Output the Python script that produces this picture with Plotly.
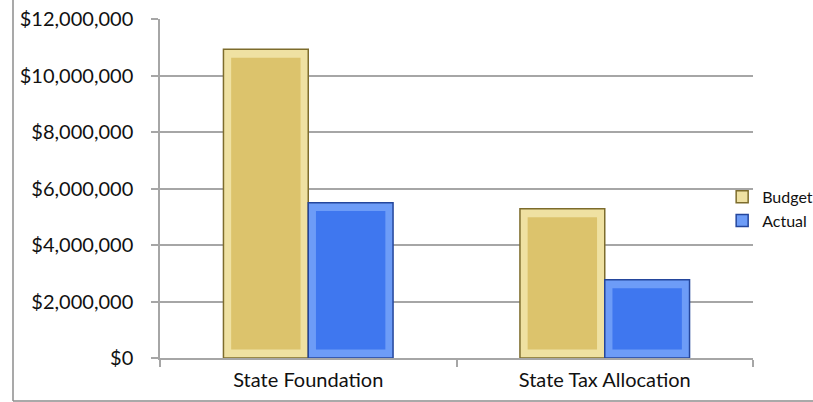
import plotly.graph_objects as go

# Revenue sources compared against budget
categories = ["State Foundation", "State Tax Allocation"]
budget = [10930000, 5280000]
actual = [5500000, 2770000]

tick_vals = [0, 2000000, 4000000, 6000000, 8000000, 10000000, 12000000]
tick_text = ["$0", "$2,000,000", "$4,000,000", "$6,000,000", "$8,000,000", "$10,000,000", "$12,000,000"]

FONT = "Lato, 'Open Sans', sans-serif"
W, H = 813, 402
L, R, T, B = 160, 60, 19, 44

GOLD_EDGE = "#7d6c2c"
GOLD_FACE = "#dcc36c"
GOLD_BEVEL = "#efe1a2"
BLUE_EDGE = "#24469c"
BLUE_FACE = "#3f77ef"
BLUE_BEVEL = "#6d9cf7"

bw = 0.286          # bar width in category units
inset = 0.026       # bevel inset (category units)
inset_v = 300000    # bevel inset (value units)

fig = go.Figure()

def add_series(name, values, offset, face, bevel, edge):
    # outer body with the legend entry
    fig.add_trace(go.Bar(
        name=name, x=categories, y=values, offset=offset, width=bw,
        marker=dict(color=bevel, line=dict(color=edge, width=1.5)),
    ))
    # inner face, slightly inset to give a bevelled look
    fig.add_trace(go.Bar(
        name=name, x=categories, y=[v - 2 * inset_v for v in values],
        base=[inset_v] * len(values),
        offset=offset + inset, width=bw - 2 * inset,
        marker=dict(color=face, line=dict(width=0)),
        showlegend=False, hoverinfo="skip",
    ))

add_series("Budget", budget, -bw, GOLD_FACE, GOLD_BEVEL, GOLD_EDGE)
add_series("Actual", actual, 0.0, BLUE_FACE, BLUE_BEVEL, BLUE_EDGE)

fig.update_layout(
    width=W, height=H,
    margin=dict(l=L, r=R, t=T, b=B, autoexpand=False),
    barmode="overlay",
    plot_bgcolor="white", paper_bgcolor="white",
    font=dict(family=FONT, size=20, color="#111111"),
    showlegend=True,
    legend=dict(
        x=0.948, y=0.44, xanchor="left", yanchor="middle",
        font=dict(size=16), tracegroupgap=6,
        itemwidth=30, bgcolor="rgba(0,0,0,0)",
    ),
    xaxis=dict(
        type="category",
        showline=True, linecolor="#a6a6a6", linewidth=1.5,
        ticks="outside", ticklen=7, tickcolor="#a6a6a6", tickwidth=1.5,
        tickson="boundaries", showgrid=False,
        tickfont=dict(size=20), ticklabelstandoff=3,
    ),
    yaxis=dict(
        range=[0, 12000000],
        tickvals=tick_vals, ticktext=tick_text,
        showline=True, linecolor="#a6a6a6", linewidth=1.5,
        ticks="outside", ticklen=7, tickcolor="#a6a6a6", tickwidth=1.5,
        showgrid=True, gridcolor="#a6a6a6", gridwidth=1.5,
        zeroline=False, tickfont=dict(size=20), ticklabelstandoff=14,
    ),
)

# chart frame (left and bottom edges)
pw, ph = W - L - R, H - T - B
fx0 = (13 - L) / pw
fy0 = -(401 - (H - B)) / ph
fig.add_shape(type="line", xref="paper", yref="paper",
              x0=fx0, x1=fx0, y0=fy0, y1=(H - B) / ph,
              line=dict(color="#8c8c8c", width=1.5))
fig.add_shape(type="line", xref="paper", yref="paper",
              x0=fx0, x1=(W - L) / pw, y0=fy0, y1=fy0,
              line=dict(color="#8c8c8c", width=1.5))

fig.write_html("out.html")
